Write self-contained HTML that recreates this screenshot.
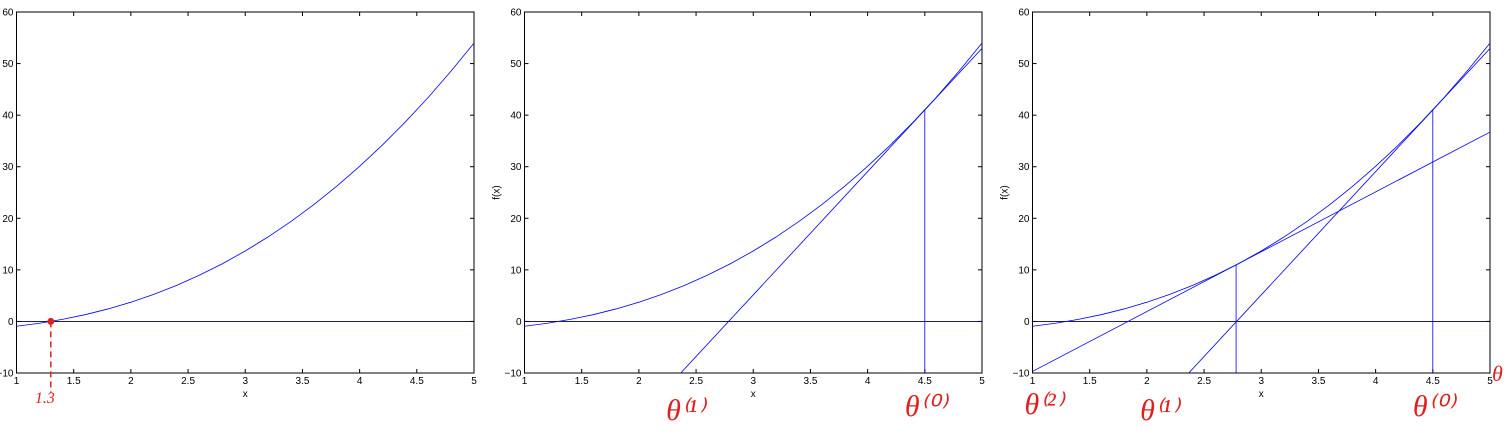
<!DOCTYPE html>
<html><head><meta charset="utf-8"><style>
html,body{margin:0;padding:0;background:#fff;overflow:hidden;width:1512px;height:440px;}
svg{display:block;font-family:"Liberation Sans",sans-serif;}
</style></head><body>
<svg id="chart" width="1512" height="440"></svg>
<script>
const xSamples=[1.0,1.2,1.4,1.6,1.8,2.0,2.2,2.4,2.6,2.8,3.0,3.2,3.4,3.6,3.8,4.0,4.2,4.4,4.6,4.8,5.0];
const fValues=[-0.93,-0.35,0.39,1.31,2.42,3.73,5.25,7.00,8.97,11.19,13.66,16.39,19.39,22.66,26.22,30.07,34.22,38.68,43.45,48.55,53.97];
const tangentX=[4.5,2.78];
const tangentY=[41.0,10.96];
const tangentSlope=[23.9,11.6];
const xTicks=[1,1.5,2,2.5,3,3.5,4,4.5,5];
const xTickLabels=["1","1.5","2","2.5","3","3.5","4","4.5","5"];
const yTicks=[-10,0,10,20,30,40,50,60];
const yTickLabels=["\u221210","0","10","20","30","40","50","60"];
const rootX=[1.3];
const panels=[{left:16.5,tangents:0,ylabel:false},{left:524.5,tangents:1,ylabel:true},{left:1032.5,tangents:2,ylabel:true}];
const W=457.5,plotTop=12,plotBottom=373;
const svg=document.getElementById('chart');
const NS='http://www.w3.org/2000/svg';
function mk(t,a,p){const e=document.createElementNS(NS,t);for(const k in a)e.setAttribute(k,a[k]);(p||svg).appendChild(e);return e;}
panels.forEach((P,pi)=>{
  const g=mk('g',{});
  
  
  const sx=x=>P.left+(x-1)/4*W;
  const sy=y=>plotBottom-(y+10)/70*(plotBottom-plotTop);
  const clipId='c'+pi;
  const cp=mk('clipPath',{id:clipId},g);mk('rect',{x:P.left,y:plotTop,width:W,height:plotBottom-plotTop},cp);
  const fr=mk('rect',{x:P.left,y:plotTop,width:W,height:plotBottom-plotTop,fill:'none',stroke:'#000','stroke-width':1},g);
  
  
  xTicks.forEach((t,i)=>{
    const X=sx(t);
    mk('line',{x1:X,y1:plotBottom,x2:X,y2:plotBottom-4,stroke:'#000'},g);
    mk('line',{x1:X,y1:plotTop,x2:X,y2:plotTop+4,stroke:'#000'},g);
    const tx=mk('text',{x:X,y:plotBottom+11,'font-size':10,'text-anchor':'middle'},g);
    tx.textContent=xTickLabels[i];
    
    
  });
  yTicks.forEach((t,i)=>{
    const Y=sy(t);
    mk('line',{x1:P.left,y1:Y,x2:P.left+4,y2:Y,stroke:'#000'},g);
    mk('line',{x1:P.left+W,y1:Y,x2:P.left+W-4,y2:Y,stroke:'#000'},g);
    const tx=mk('text',{x:P.left-3,y:Y+3.5,'font-size':10,'text-anchor':'end'},g);
    tx.textContent=yTickLabels[i];
    
    
  });
  const xl=mk('text',{x:P.left+W/2,y:plotBottom+24,'font-size':10,'text-anchor':'middle'},g);
  xl.textContent='x';
  
  
  if(P.ylabel){
    const yl=mk('text',{x:0,y:0,'font-size':10,'text-anchor':'middle',transform:`translate(${P.left-25},${(plotTop+plotBottom)/2}) rotate(-90)`},g);
    yl.textContent='f(x)';
    
    
  }
  const cg=mk('g',{'clip-path':`url(#${clipId})`},g);
  const zl=mk('line',{x1:sx(1),y1:sy(0),x2:sx(5),y2:sy(0),stroke:'#000040','stroke-width':0.8},cg);
  
  
  const curve=mk('polyline',{points:xSamples.map((x,i)=>sx(x)+','+sy(fValues[i])).join(' '),fill:'none',stroke:'#0000ff','stroke-width':0.8},cg);
  
  
  for(let k=0;k<P.tangents;k++){
    const x0=tangentX[k],y0=tangentY[k],m=tangentSlope[k];
    const tl=mk('line',{x1:sx(1),y1:sy(y0+m*(1-x0)),x2:sx(5),y2:sy(y0+m*(5-x0)),stroke:'#0000ff','stroke-width':0.8},cg);
    
    
    const vl=mk('line',{x1:sx(x0),y1:sy(-10),x2:sx(x0),y2:sy(y0),stroke:'#0000ff','stroke-width':0.8},cg);
    
    
  }
  const red='#e02020';
  const hw=(txt,x,y,size,name)=>{const t=mk('text',{x:x,y:y,'font-size':size,fill:red,'font-family':'"Liberation Serif",serif','font-style':'italic'},g);t.textContent=txt;};
  if(pi===0){
    const X=sx(rootX[0]);
    const dl=mk('line',{x1:X,y1:sy(0),x2:X,y2:plotBottom+20,stroke:red,'stroke-width':1.5,'stroke-dasharray':'6,4'},g);
    
    
    const dot=mk('circle',{cx:X,cy:sy(0),r:3.5,fill:red},g);
    
    
    hw('1.3',X-16,plotBottom+30,16,'root-annotation');
  }
  if(pi===1){
    hw('\u03B8\u207D\u00B9\u207E',sx(2.78)-62,plotBottom+47,30,'theta1-annotation');
    hw('\u03B8\u207D\u2070\u207E',sx(4.5)-20,plotBottom+43,30,'theta0-annotation');
  }
  if(pi===2){
    hw('\u03B8\u207D\u00B2\u207E',P.left-8,plotBottom+41,30,'theta2-annotation');
    hw('\u03B8\u207D\u00B9\u207E',sx(2.78)-96,plotBottom+47,30,'theta1-annotation');
    hw('\u03B8\u207D\u2070\u207E',sx(4.5)-20,plotBottom+43,30,'theta0-annotation');
    hw('\u03B8',P.left+W+2,plotBottom+8,22,'theta-annotation');
  }
});
</script>
</body></html>
